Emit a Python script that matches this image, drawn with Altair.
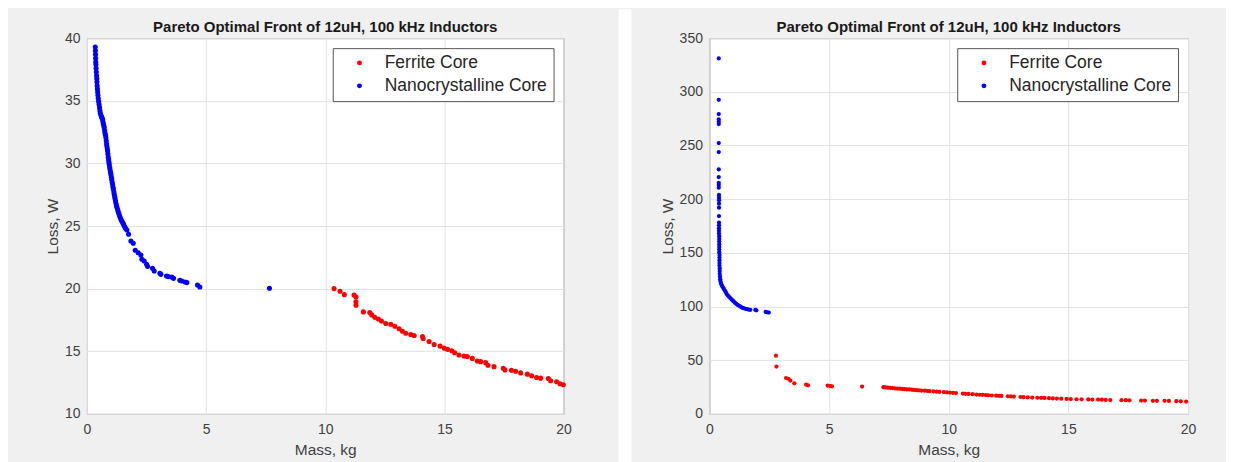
import altair as alt
import pandas as pd

TITLE = "Pareto Optimal Front of 12uH, 100 kHz Inductors"
SERIES = ["Ferrite Core", "Nanocrystalline Core"]
COLORS = ["#ff0000", "#0000ff"]
X_TICKS = [0, 5, 10, 15, 20]
LEFT_Y_TICKS = [10, 15, 20, 25, 30, 35, 40]
RIGHT_Y_TICKS = [0, 50, 100, 150, 200, 250, 300, 350]

# ---- left panel: nanocrystalline core ----
left_nano_mass = [
    0.35, 0.355, 0.36, 0.365, 0.37, 0.377, 0.385, 0.395, 0.405, 0.413, 0.42, 0.43,
    0.44, 0.45, 0.462, 0.475, 0.49, 0.51, 0.53, 0.545, 0.565, 0.59, 0.615, 0.64,
    0.657, 0.675, 0.69, 0.71, 0.727, 0.745, 0.76, 0.78, 0.797, 0.81, 0.825, 0.84,
    0.855, 0.867, 0.88, 0.895, 0.91, 0.922, 0.936, 0.955, 0.97, 0.99, 1.006, 1.025,
    1.04, 1.06, 1.076, 1.095, 1.11, 1.13, 1.146, 1.165, 1.18, 1.20, 1.22, 1.24,
    1.265, 1.29, 1.315, 1.34, 1.37, 1.40, 1.43, 1.46, 1.50, 1.537, 1.58, 1.62,
    1.677, 1.747, 1.845, 1.943, 2.027, 2.152, 2.264, 2.306, 2.404, 2.502, 2.544,
    2.753, 2.823, 3.061, 3.103, 3.340, 3.410, 3.564, 3.634, 3.899, 3.983, 4.123,
    4.193, 4.640, 4.738, 7.659,
]
left_nano_loss = [
    39.3, 39.0, 38.7, 38.4, 38.1, 37.9, 37.6, 37.3, 37.0, 36.75, 36.5, 36.2,
    35.95, 35.7, 35.45, 35.2, 34.95, 34.7, 34.45, 34.2, 34.0, 33.85, 33.7, 33.6,
    33.5, 33.3, 33.15, 33.0, 32.85, 32.6, 32.4, 32.25, 32.05, 31.8, 31.55, 31.35,
    31.15, 30.98, 30.75, 30.5, 30.3, 30.1, 29.92, 29.7, 29.5, 29.3, 29.12, 28.9,
    28.72, 28.5, 28.32, 28.1, 27.93, 27.71, 27.53, 27.33, 27.17, 26.99, 26.8, 26.62,
    26.45, 26.3, 26.13, 25.97, 25.8, 25.65, 25.52, 25.4, 25.27, 25.13, 24.95, 24.82,
    24.68, 24.34, 23.80, 23.62, 23.06, 22.87, 22.69, 22.34, 22.21, 21.94, 21.78,
    21.62, 21.41, 21.22, 21.14, 21.01, 20.96, 20.93, 20.82, 20.66, 20.61, 20.53,
    20.48, 20.29, 20.13, 20.03,
]

# ---- left panel: ferrite core ----
left_ferrite_mass = [
    10.37, 10.62, 10.80, 11.21, 11.29, 11.29, 11.29, 11.60, 11.87, 11.95, 12.08,
    12.23, 12.36, 12.54, 12.75, 12.92, 13.10, 13.24, 13.38, 13.59, 13.73, 14.08,
    14.11, 14.36, 14.57, 14.82, 14.99, 15.13, 15.31, 15.43, 15.61, 15.82, 15.96,
    16.17, 16.38, 16.52, 16.73, 16.83, 17.08, 17.47, 17.54, 17.81, 17.99, 18.20,
    18.48, 18.66, 18.87, 19.04, 19.36, 19.46, 19.71, 19.85, 19.99,
]
left_ferrite_loss = [
    20.00, 19.79, 19.52, 19.49, 19.33, 18.94, 18.67, 18.14, 18.09, 17.90, 17.72,
    17.58, 17.42, 17.21, 17.16, 17.00, 16.79, 16.60, 16.44, 16.34, 16.26, 16.18,
    16.02, 15.78, 15.54, 15.41, 15.25, 15.15, 15.04, 14.88, 14.70, 14.62, 14.57,
    14.43, 14.22, 14.17, 14.09, 13.88, 13.77, 13.64, 13.51, 13.48, 13.40, 13.27,
    13.17, 13.04, 12.90, 12.85, 12.82, 12.64, 12.56, 12.40, 12.32,
]

# ---- right panel: nanocrystalline core ----
right_nano_mass = [
    0.39, 0.39, 0.39, 0.39, 0.39, 0.39, 0.39, 0.39, 0.39, 0.39, 0.39, 0.39, 0.39,
    0.40, 0.40, 0.40, 0.40, 0.40, 0.40, 0.40, 0.40, 0.40,
    0.40, 0.40, 0.41, 0.41, 0.41, 0.41, 0.41, 0.41, 0.41, 0.42, 0.42, 0.42, 0.42,
    0.42, 0.43, 0.43, 0.43, 0.44, 0.45, 0.46, 0.48, 0.50, 0.53, 0.57, 0.61, 0.65,
    0.69, 0.73, 0.78, 0.83, 0.88, 0.93, 0.98, 1.02, 1.07, 1.12, 1.18, 1.24, 1.30,
    1.36, 1.43, 1.50, 1.57, 1.64, 1.71, 1.92, 1.96, 2.35, 2.41, 2.48,
]
right_nano_loss = [
    331.1, 292.6, 279.3, 274.3, 272.1, 270.0, 252.3, 243.9, 227.7, 220.6, 215.3,
    213.2, 210.7, 203.9, 201.4, 198.9, 195.8, 192.1, 184.3, 178.1, 175.6, 172.8,
    170.5, 168.0, 165.5, 163.0, 160.5, 158.0, 155.5, 153.0, 150.5, 148.0, 145.5,
    143.0, 140.5, 138.0, 135.5, 133.0, 130.5, 128.0, 125.5, 123.8, 122.0, 120.5,
    119.2, 117.6, 116.1, 114.6, 113.1, 111.4, 110.0, 108.8, 107.7, 106.5, 105.4,
    104.6, 103.5, 102.5, 101.5, 100.6, 99.8, 99.0, 98.4, 97.9, 97.5, 97.2, 96.9,
    96.8, 96.5, 94.9, 94.6, 94.4,
]

# ---- right panel: ferrite core ----
right_ferrite_mass = [
    2.78, 2.80, 3.20, 3.30, 3.38, 3.55, 4.04, 4.12, 4.94, 5.05, 5.12, 6.38,
    7.27, 7.35, 7.45, 7.55, 7.65, 7.75, 7.85, 7.95, 8.05, 8.15, 8.25, 8.35, 8.45,
    8.54, 8.65, 8.75, 8.85, 9.00, 9.12, 9.20, 9.36, 9.50, 9.61, 9.80, 9.93, 10.05,
    10.18, 10.30, 10.59, 10.70, 10.83, 11.00, 11.16, 11.30, 11.41, 11.55, 11.65,
    11.80, 11.98, 12.10, 12.20, 12.47, 12.60, 12.72, 13.00, 13.13, 13.30, 13.49,
    13.70, 13.86, 14.00, 14.19, 14.35, 14.52, 14.70, 14.93, 15.10, 15.34, 15.55,
    15.83, 16.00, 16.24, 16.40, 16.56, 16.75, 17.22, 17.40, 17.55, 18.04, 18.20,
    18.53, 18.70, 19.02, 19.20, 19.51, 19.70, 19.92,
]
right_ferrite_loss = [
    54.2, 44.0, 33.4, 32.6, 31.0, 28.5, 27.3, 26.6, 26.3, 25.9, 25.6, 25.4,
    24.8, 24.6, 24.4, 24.2, 24.0, 23.8, 23.6, 23.4, 23.2, 23.0, 22.9, 22.7, 22.5,
    22.3, 22.1, 21.9, 21.7, 21.55, 21.4, 21.2, 21.0, 20.7, 20.5, 20.2, 20.1, 19.8,
    19.6, 19.4, 18.9, 18.7, 18.6, 18.3, 18.0, 17.8, 17.7, 17.5, 17.3,
    17.1, 16.9, 16.8, 16.7, 16.4, 16.2, 16.1, 15.7, 15.5, 15.4, 15.2,
    15.0, 14.9, 14.8, 14.6, 14.4, 14.2, 14.1, 13.9, 13.8, 13.6, 13.5,
    13.4, 13.35, 13.3, 13.15, 13.0, 12.9, 12.7, 12.7, 12.65, 12.4, 12.35,
    12.2, 12.15, 12.1, 12.0, 11.8, 11.7, 11.5,
]

FONT = "Liberation Sans"
BG = "#f0f0f0"
PLOT_H = 376


def frame(fm, fl, nm, nl):
    return pd.DataFrame({
        "mass": fm + nm,
        "loss": fl + nl,
        "series": [SERIES[0]] * len(fm) + [SERIES[1]] * len(nm),
    })


def strip(x0, x1, y0, y1, color):
    return alt.Chart(pd.DataFrame({"k": [0]})).mark_rect(color=color).encode(
        x=alt.value(x0), x2=alt.value(x1), y=alt.value(y0), y2=alt.value(y1)
    )


def panel(df, ydom, yticks, width, size, extras):
    pts = alt.Chart(df).mark_circle(size=size, opacity=1).encode(
        x=alt.X("mass:Q",
                scale=alt.Scale(domain=[0, 20], nice=False, zero=False),
                axis=alt.Axis(values=X_TICKS, title="Mass, kg", labelFlush=False,
                              labelPadding=9, titlePadding=6)),
        y=alt.Y("loss:Q",
                scale=alt.Scale(domain=ydom, nice=False, zero=False),
                axis=alt.Axis(values=yticks, title="Loss, W", labelFlush=False,
                              labelPadding=7, titlePadding=4)),
        color=alt.Color("series:N",
                        scale=alt.Scale(domain=SERIES, range=COLORS),
                        legend=alt.Legend(title=None, orient="top-right", offset=10,
                                          fillColor="white", strokeColor="#555555",
                                          padding=6, cornerRadius=0,
                                          labelFont=FONT, labelFontSize=17.5,
                                          labelColor="#262626", labelLimit=400,
                                          symbolType="circle", symbolSize=24,
                                          symbolStrokeWidth=0, symbolOffset=12,
                                          labelOffset=16.5, rowPadding=4)),
    )
    layers = [pts] + extras
    return alt.layer(*layers).properties(
        width=width, height=PLOT_H,
        title=alt.TitleParams(TITLE, fontSize=15, fontWeight="bold", color="#1a1a1a",
                              font=FONT, offset=0, dy=4, anchor="middle"),
    )


left = panel(frame(left_ferrite_mass, left_ferrite_loss, left_nano_mass, left_nano_loss),
             [10, 40], LEFT_Y_TICKS, 477, 26,
             [strip(-78, -77, 0, 1, BG)])
right = panel(frame(right_ferrite_mass, right_ferrite_loss, right_nano_mass, right_nano_loss),
              [0, 350], RIGHT_Y_TICKS, 479, 18,
              [strip(515, 516, 0, 1, BG)])

# white gap between the two figure panels
gap = strip(55, 68, -29, PLOT_H + 49, "white").properties(
    width=146, height=PLOT_H,
    view=alt.ViewBackground(fill="transparent", stroke="transparent"),
)

chart = alt.hconcat(left, gap, right, spacing=0, bounds="flush").resolve_scale(
    color="independent", x="independent", y="independent"
).resolve_legend(color="independent").properties(
    padding=0
).configure(
    background=BG, font=FONT
).configure_view(
    fill="white", stroke="#8a8a8a", strokeWidth=1
).configure_axis(
    grid=True, gridColor="#e2e2e2", gridWidth=1, domain=False, ticks=False, tickSize=0,
    labelFont=FONT, labelFontSize=14, labelColor="#404040",
    titleFont=FONT, titleFontSize=15.5, titleColor="#404040", titleFontWeight="normal",
)

chart.save("out.html", embed_options={"renderer": "svg", "actions": False})
